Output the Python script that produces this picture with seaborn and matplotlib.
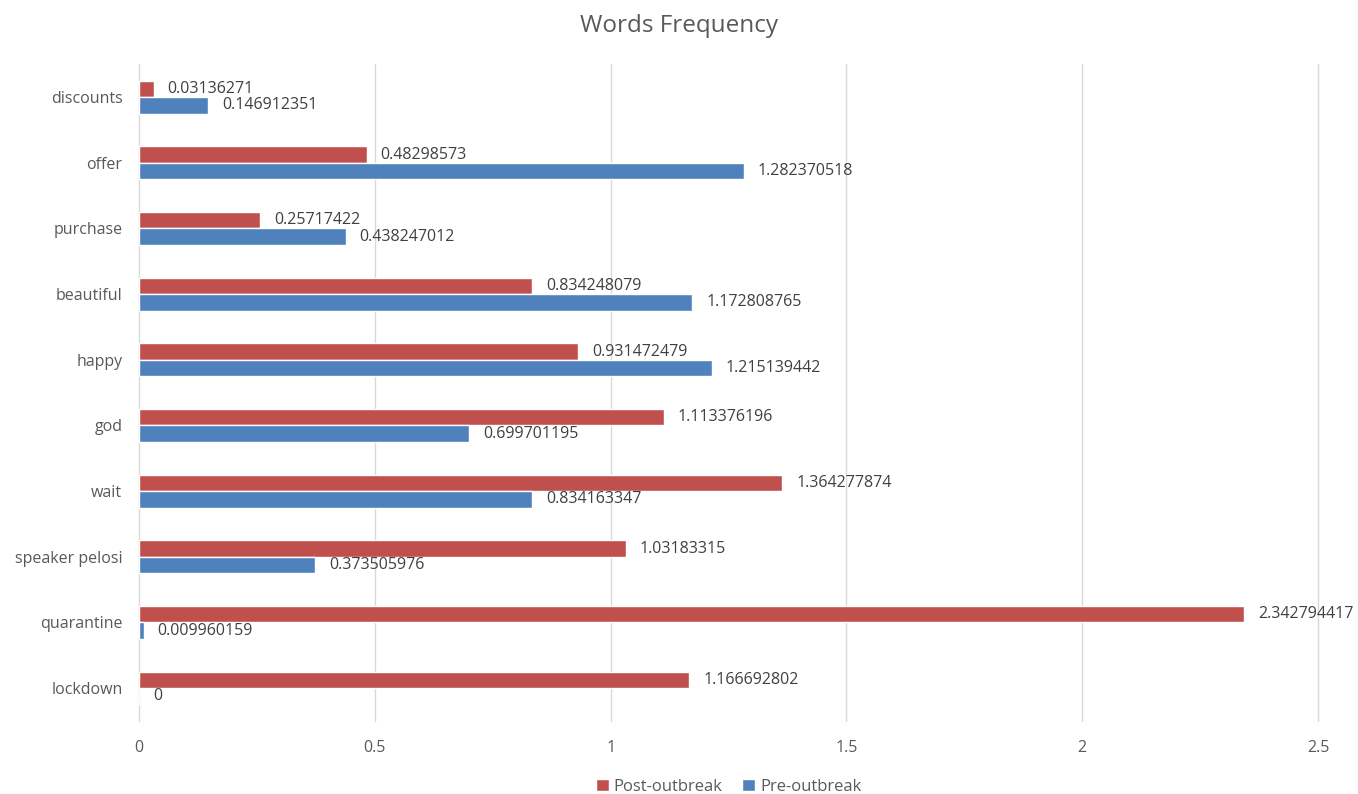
import pandas as pd
import seaborn as sns
import matplotlib.pyplot as plt

words = ["discounts", "offer", "purchase", "beautiful", "happy",
         "god", "wait", "speaker pelosi", "quarantine", "lockdown"]
post_outbreak = [0.03136271, 0.48298573, 0.25717422, 0.834248079, 0.931472479,
                 1.113376196, 1.364277874, 1.03183315, 2.342794417, 1.166692802]
pre_outbreak = [0.146912351, 1.282370518, 0.438247012, 1.172808765, 1.215139442,
                0.699701195, 0.834163347, 0.373505976, 0.009960159, 0]
post_labels = ["0.03136271", "0.48298573", "0.25717422", "0.834248079", "0.931472479",
               "1.113376196", "1.364277874", "1.03183315", "2.342794417", "1.166692802"]
pre_labels = ["0.146912351", "1.282370518", "0.438247012", "1.172808765", "1.215139442",
              "0.699701195", "0.834163347", "0.373505976", "0.009960159", "0"]
series = ["Post-outbreak", "Pre-outbreak"]
colors = {"Post-outbreak": "#C0504D", "Pre-outbreak": "#4F81BD"}

df = pd.DataFrame({
    "word": words * 2,
    "value": post_outbreak + pre_outbreak,
    "series": [series[0]] * len(words) + [series[1]] * len(words),
})

sns.set_style("white")
plt.rcParams["font.family"] = ["Open Sans", "DejaVu Sans"]
text_color = "#595959"

fig = plt.figure(figsize=(13.58, 7.94), dpi=100)
ax = fig.add_axes([0.1024, 0.092, 0.8682, 0.827])

sns.barplot(data=df, x="value", y="word", hue="series", order=words,
            hue_order=series, palette=colors, width=0.5, orient="h",
            saturation=1, ax=ax, legend=True)

for cont, labs in zip(ax.containers, [post_labels, pre_labels]):
    ax.bar_label(cont, labels=labs, padding=10, fontsize=11.5, color="#404040")

ax.set_xlim(0, 2.5)
ax.set_xticks([0, 0.5, 1, 1.5, 2, 2.5])
ax.set_xticklabels(["0", "0.5", "1", "1.5", "2", "2.5"])
ax.xaxis.grid(True, color="#D9D9D9", linewidth=1)
for gl in ax.get_xgridlines():
    gl.set_clip_on(False)
ax.set_axisbelow(True)
for s in ax.spines.values():
    s.set_visible(False)
ax.tick_params(axis="both", length=0, labelsize=11.5, labelcolor=text_color)
ax.tick_params(axis="x", pad=14)
ax.tick_params(axis="y", pad=12)
ax.set_xlabel("")
ax.set_ylabel("")

fig.suptitle("Words Frequency", y=0.982, fontsize=17.5, color=text_color)

handles, labels = ax.get_legend_handles_labels()
ax.legend(handles, labels, loc="lower center", bbox_to_anchor=(0.5, -0.135),
          ncol=2, frameon=False, fontsize=12, handlelength=0.75, handleheight=0.75,
          handletextpad=0.3, columnspacing=1.2, labelcolor=text_color)

fig.savefig("out.png", dpi=100)
